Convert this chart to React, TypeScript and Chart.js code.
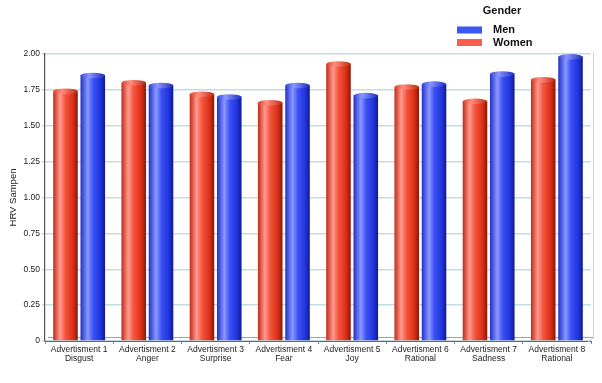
import React, { useEffect, useRef } from "react";
import { Chart, registerables } from "chart.js";

Chart.register(...registerables);

const categories: string[][] = [
  ["Advertisment 1", "Disgust"],
  ["Advertisment 2", "Anger"],
  ["Advertisment 3", "Surprise"],
  ["Advertisment 4", "Fear"],
  ["Advertisment 5", "Joy"],
  ["Advertisment 6", "Rational"],
  ["Advertisment 7", "Sadness"],
  ["Advertisment 8", "Rational"],
];
const women: number[] = [1.74, 1.8, 1.72, 1.66, 1.93, 1.77, 1.67, 1.82];
const men: number[] = [1.85, 1.78, 1.7, 1.78, 1.71, 1.79, 1.86, 1.98];
const yMin = 0;
const yMax = 2;
const yStep = 0.25;
const legendTitle = "Gender";
const yTitle = "HRV Sampen";

const CAT_PCT = 0.8;
const BAR_PCT = 0.9;

const redStops: [number, string][] = [
  [0, "#c22a16"],
  [0.28, "#ff9a90"],
  [0.5, "#f4543c"],
  [0.8, "#dc3018"],
  [1, "#8e1606"],
];
const blueStops: [number, string][] = [
  [0, "#2030c8"],
  [0.3, "#8a98ff"],
  [0.52, "#3c50f4"],
  [0.8, "#2236e0"],
  [1, "#101a90"],
];
const redCap: [number, string][] = [
  [0, "#e0402a"],
  [0.35, "#ff8e80"],
  [1, "#c02812"],
];
const blueCap: [number, string][] = [
  [0, "#3446e0"],
  [0.35, "#8a96ff"],
  [1, "#1c2cc0"],
];

function barGeom(chart: any, dsIndex: number, dataIndex: number) {
  const xs = chart.scales.x;
  const n = categories.length;
  const pitch = xs.width / n;
  const center = xs.getPixelForValue(dataIndex);
  const catW = pitch * CAT_PCT;
  const slot = catW / 2;
  const barW = slot * BAR_PCT;
  const bc = center - catW / 2 + slot * (dsIndex + 0.5);
  return { left: bc - barW / 2, width: barW };
}

function grad(ctx: CanvasRenderingContext2D, left: number, width: number, stops: [number, string][]) {
  const g = ctx.createLinearGradient(left, 0, left + width, 0);
  stops.forEach(([o, c]) => g.addColorStop(o, c));
  return g;
}

const makeBg = (stops: [number, string][], fallback: string) => (c: any) => {
  const chart = c.chart;
  if (!chart.scales || !chart.scales.x || c.type !== "data") return fallback;
  const { left, width } = barGeom(chart, c.datasetIndex, c.dataIndex);
  if (!isFinite(left) || !isFinite(width)) return fallback;
  return grad(chart.ctx, left, width, stops);
};

const capsPlugin = {
  id: "caps",
  afterDatasetsDraw(chart: any) {
    const ctx = chart.ctx as CanvasRenderingContext2D;
    chart.data.datasets.forEach((ds: any, di: number) => {
      const meta = chart.getDatasetMeta(di);
      const stops = di === 0 ? redCap : blueCap;
      meta.data.forEach((el: any) => {
        const { x, y, width } = el.getProps(["x", "y", "width"], true);
        const rx = width / 2;
        const ry = 2.8;
        ctx.save();
        ctx.beginPath();
        ctx.ellipse(x, y, rx, ry, 0, 0, Math.PI * 2);
        ctx.fillStyle = grad(ctx, x - rx, width, stops);
        ctx.fill();
        ctx.restore();
      });
    });
  },
};

const framePlugin = {
  id: "frame",
  beforeDatasetsDraw(chart: any) {
    const { ctx, chartArea } = chart;
    ctx.save();
    ctx.strokeStyle = "#c8d6d8";
    ctx.lineWidth = 1;
    ctx.beginPath();
    ctx.moveTo(chartArea.right + 2.5, chartArea.top - 2);
    ctx.lineTo(chartArea.right + 2.5, chartArea.bottom - 3);
    ctx.lineTo(chartArea.right - 3, chartArea.bottom + 1);
    ctx.stroke();
    ctx.strokeStyle = "#9aa6a8";
    ctx.beginPath();
    ctx.moveTo(chartArea.left + 3, chartArea.bottom - 3.5);
    ctx.lineTo(chartArea.right + 2.5, chartArea.bottom - 3.5);
    ctx.stroke();
    ctx.restore();
  },
};

const legendPlugin = {
  id: "customLegend",
  afterDraw(chart: any) {
    const ctx = chart.ctx as CanvasRenderingContext2D;
    ctx.save();
    ctx.fillStyle = "#111";
    ctx.font = "bold 11px 'Liberation Sans', Arial, sans-serif";
    ctx.textBaseline = "middle";
    ctx.textAlign = "center";
    ctx.fillText(legendTitle, 502, 11);
    ctx.textAlign = "left";
    const items = [
      { label: chart.data.datasets[1].label, color: "#3a58f2", y: 30 },
      { label: chart.data.datasets[0].label, color: "#fa5c4e", y: 42.5 },
    ];
    items.forEach((it) => {
      ctx.fillStyle = it.color;
      ctx.fillRect(457, it.y - 3.5, 25, 7);
      ctx.fillStyle = "#111";
      ctx.fillText(it.label, 493, it.y);
    });
    ctx.restore();
  },
};

export default function App() {
  const ref = useRef<HTMLCanvasElement | null>(null);
  useEffect(() => {
    if (!ref.current) return;
    const font = { family: "'Liberation Sans', Arial, sans-serif", size: 8.5 };
    const chart = new Chart(ref.current, {
      type: "bar",
      data: {
        labels: categories,
        datasets: [
          {
            label: "Women",
            data: women,
            backgroundColor: makeBg(redStops, "#f04a32"),
            categoryPercentage: CAT_PCT,
            barPercentage: BAR_PCT,
          },
          {
            label: "Men",
            data: men,
            backgroundColor: makeBg(blueStops, "#3040f0"),
            categoryPercentage: CAT_PCT,
            barPercentage: BAR_PCT,
          },
        ],
      },
      options: {
        animation: false,
        responsive: true,
        maintainAspectRatio: false,
        devicePixelRatio: 1,
        layout: { padding: { top: 54, right: 11, left: 0, bottom: 0 } },
        plugins: {
          legend: { display: false },
          tooltip: { enabled: false },
          title: { display: false },
        },
        scales: {
          x: {
            grid: {
              display: true,
              drawOnChartArea: false,
              drawTicks: true,
              tickLength: 3,
              offset: true,
              color: "#888",
            },
            border: { display: true, color: "#666", width: 1 },
            ticks: {
              color: "#222",
              font: { ...font, lineHeight: 1.1 },
              padding: 1,
              maxRotation: 0,
              autoSkip: false,
            },
            afterFit: (s: any) => {
              s.height = 42;
            },
          },
          y: {
            min: yMin,
            max: yMax,
            grid: {
              color: "#c3dde2",
              lineWidth: 1.5,
              drawTicks: true,
              tickLength: 3,
            },
            border: { display: true, color: "#555", width: 1.2 },
            ticks: {
              stepSize: yStep,
              color: "#222",
              font,
              padding: 2,
              callback: (v: any) => (Number(v) === 0 ? "0" : Number(v).toFixed(2)),
            },
            title: {
              display: true,
              text: yTitle,
              color: "#222",
              font: { family: "'Liberation Sans', Arial, sans-serif", size: 9.5 },
              padding: { top: 8, bottom: 0 },
            },
            afterFit: (s: any) => {
              s.width = 45;
            },
          },
        },
      },
      plugins: [framePlugin, capsPlugin, legendPlugin],
    });
    return () => chart.destroy();
  }, []);
  return (
    <div style={{ position: "fixed", left: 0, top: 0, width: 602, height: 383, background: "#fff" }}>
      <canvas ref={ref} />
    </div>
  );
}
